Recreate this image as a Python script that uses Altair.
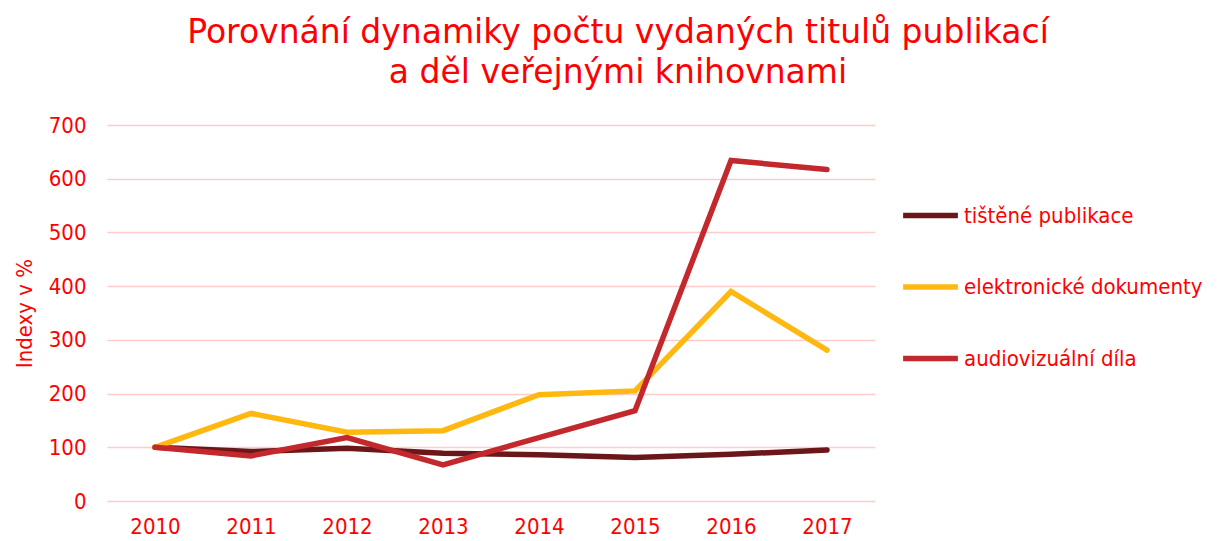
import altair as alt
import pandas as pd

years = ["2010", "2011", "2012", "2013", "2014", "2015", "2016", "2017"]
tistene = [100, 92, 98, 89, 86, 81, 87, 95]
elektronicke = [100, 163, 128, 131, 198, 205, 390, 281]
audio = [100, 84, 118, 67, 118, 168, 634, 617]
series = ["tištěné publikace", "elektronické dokumenty", "audiovizuální díla"]
colors = ["#6B1719", "#FFB80F", "#C3282D"]

rows = []
for name, vals in zip(series, [tistene, elektronicke, audio]):
    for y, v in zip(years, vals):
        rows.append({"rok": y, "hodnota": v, "serie": name})
df = pd.DataFrame(rows)

FONT = "DejaVu Sans Condensed"
TFONT = "DejaVu Sans"
RED = "#FF0000"

chart = alt.Chart(df).mark_line(strokeWidth=5.5, strokeCap="round", strokeJoin="miter").encode(
    x=alt.X("rok:O", sort=years, title=None,
            scale=alt.Scale(paddingOuter=0.5),
            axis=alt.Axis(labelAngle=0, labelFontSize=22, labelColor=RED, labelFont=FONT,
                          ticks=False, domain=False, labelPadding=15, grid=False)),
    y=alt.Y("hodnota:Q", title="Indexy v %",
            scale=alt.Scale(domain=[0, 700]),
            axis=alt.Axis(values=[0, 100, 200, 300, 400, 500, 600, 700], labelFontSize=22,
                          labelColor=RED, labelFont=FONT, ticks=False, domain=False,
                          labelPadding=21, gridColor="#FFCCCC", gridWidth=1.5,
                          titleFontSize=22, titleColor=RED, titleFont=FONT,
                          titleFontWeight="normal", titlePadding=12)),
    color=alt.Color("serie:N", sort=series,
                    scale=alt.Scale(domain=series, range=colors),
                    legend=alt.Legend(title=None, orient="none", legendX=793, legendY=60,
                                      symbolType="stroke", symbolSize=3000, symbolStrokeWidth=5.5,
                                      labelFontSize=22, labelColor=RED, labelFont=FONT,
                                      labelOffset=3, rowPadding=29.5, labelLimit=400)),
).properties(
    width=768,
    height=376,
    title=alt.TitleParams(
        text=["Porovnání dynamiky počtu vydaných titulů publikací", "a děl veřejnými knihovnami"],
        fontSize=33, color=RED, font=TFONT, fontWeight="normal", anchor="middle",
        dx=127, offset=24, lineHeight=40),
    autosize=alt.AutoSizeParams(type="none"),
    padding={"left": 107, "top": 125, "right": 352, "bottom": 40},
).configure_view(stroke=None)

chart.save("out.html", embed_options={"renderer": "svg", "actions": False})
